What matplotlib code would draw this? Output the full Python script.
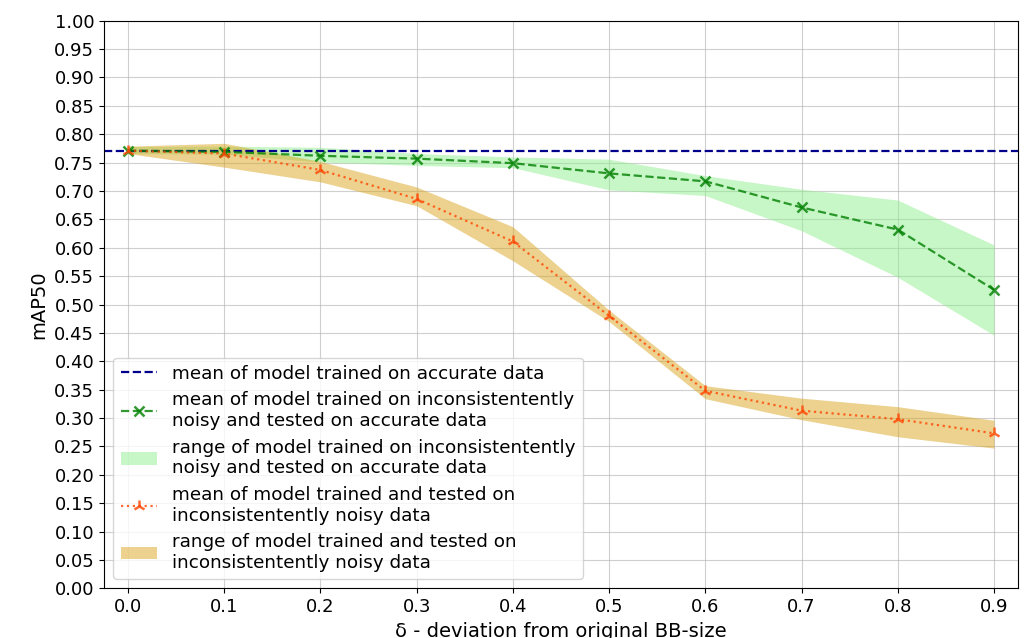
import numpy as np
import matplotlib.pyplot as plt

# deviation from original bounding-box size
deltas = [0.0, 0.1, 0.2, 0.3, 0.4, 0.5, 0.6, 0.7, 0.8, 0.9]

# baseline: model trained on accurate data
baseline_mean = 0.770

# trained on noisy, tested on accurate
clean_mean = [0.771, 0.769, 0.762, 0.757, 0.749, 0.731, 0.717, 0.671, 0.632, 0.526]
clean_low = [0.766, 0.765, 0.751, 0.745, 0.741, 0.702, 0.692, 0.630, 0.548, 0.446]
clean_high = [0.778, 0.779, 0.777, 0.766, 0.760, 0.756, 0.727, 0.703, 0.684, 0.605]

# trained and tested on noisy
noisy_mean = [0.771, 0.766, 0.737, 0.686, 0.611, 0.480, 0.348, 0.313, 0.298, 0.273]
noisy_low = [0.766, 0.742, 0.716, 0.674, 0.577, 0.470, 0.334, 0.297, 0.267, 0.247]
noisy_high = [0.779, 0.784, 0.752, 0.707, 0.637, 0.490, 0.357, 0.335, 0.320, 0.296]

plt.rcParams['font.size'] = 13

fig, ax = plt.subplots(figsize=(10.26, 6.38), dpi=100)
fig.subplots_adjust(left=104 / 1026, right=1018 / 1026, top=1 - 20.7 / 638, bottom=1 - 588.3 / 638)

ax.axhline(baseline_mean, color='darkblue', linestyle='--', linewidth=1.6,
           label='mean of model trained on accurate data')
ax.plot(deltas, clean_mean, color='green', linestyle='--', marker='x', markersize=7,
        markeredgewidth=1.8, linewidth=1.6, alpha=0.8,
        label='mean of model trained on inconsistentently\nnoisy and tested on accurate data')
ax.fill_between(deltas, clean_low, clean_high, color='lightgreen', alpha=0.5, linewidth=0,
                label='range of model trained on inconsistentently\nnoisy and tested on accurate data')
ax.plot(deltas, noisy_mean, color='orangered', linestyle=':', marker='2', markersize=9,
        markeredgewidth=1.8, linewidth=1.6, alpha=0.8,
        label='mean of model trained and tested on\ninconsistentently noisy data')
ax.fill_between(deltas, noisy_low, noisy_high, color='goldenrod', alpha=0.5, linewidth=0,
                label='range of model trained and tested on\ninconsistentently noisy data')

ax.set_xlim(-0.025, 0.925)
ax.set_ylim(0, 1)
ax.set_xticks(np.arange(0, 0.91, 0.1))
ax.set_yticks(np.arange(0, 1.001, 0.05))
ax.grid(True, color='#b0b0b0', alpha=0.6)
ax.set_axisbelow(True)

ax.set_xlabel('δ - deviation from original BB-size', fontsize=14)
ax.set_ylabel('mAP50', fontsize=14)
ax.legend(loc='lower left', fontsize=13.2, labelspacing=0.46)

fig.savefig('out.png', dpi=100)
